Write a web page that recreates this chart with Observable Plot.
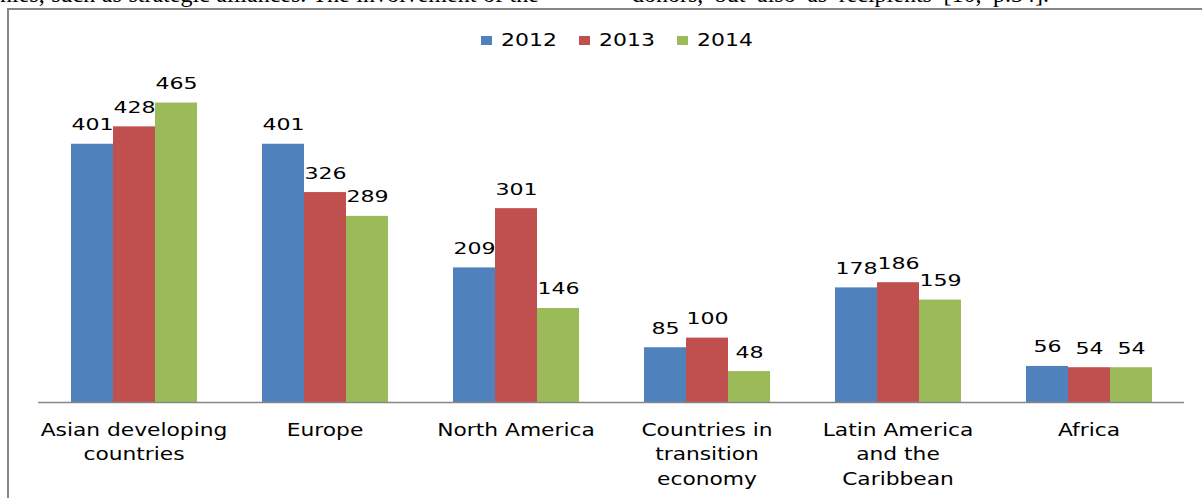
<!DOCTYPE html>
<html>
<head>
<meta charset="utf-8">
<script src="https://cdn.jsdelivr.net/npm/d3@7"></script>
<script src="https://cdn.jsdelivr.net/npm/@observablehq/plot@0.6"></script>
<style>
  html, body { margin: 0; padding: 0; background: #fff; }
  #page { position: relative; width: 1202px; height: 498px; overflow: hidden; background: #fff; }
  #bodytext { position: absolute; top: -19px; left: 0; width: 1202px; font-family: "Liberation Serif", "DejaVu Serif", serif; font-size: 24px; color: #000; white-space: nowrap; }
  #bodytext span { position: absolute; top: 0; }
  #frame { position: absolute; left: 7px; top: 8px; width: 1300px; height: 600px; border: 2px solid #868686; box-sizing: border-box; }
  #chart { position: absolute; left: 0; top: 0; }
  #legend { position: absolute; left: 481px; top: 31px; display: flex; align-items: center; font-family: "DejaVu Sans", sans-serif; font-size: 18px; color: #000; }
  #legend .sw { display: inline-block; width: 11px; height: 9px; margin-right: 9px; }
  #legend .lab { display: inline-block; transform: scaleX(1.22); transform-origin: 0 50%; margin-right: 32px; line-height: 18px; }
</style>
</head>
<body>
<div id="page">
  <div id="bodytext"><span style="left:0px; word-spacing:0.6px">nies, such as strategic alliances. The involvement of the</span><span style="left:632px; word-spacing:5.5px">donors, but also as recipients [10, p.34].</span></div>
  <div id="frame"></div>
  <div id="chart"></div>
  <div id="legend"></div>
</div>
<script>
const categories = ["Asian developing countries", "Europe", "North America", "Countries in transition economy", "Latin America and the Caribbean", "Africa"];
const categoryLabels = ["Asian developing\ncountries", "Europe", "North America", "Countries in\ntransition\neconomy", "Latin America\nand the\nCaribbean", "Africa"];
const years = ["2012", "2013", "2014"];
const values2012 = [401, 401, 209, 85, 178, 56];
const values2013 = [428, 326, 301, 100, 186, 54];
const values2014 = [465, 289, 146, 48, 159, 54];
const colors = ["#4F81BD", "#C0504D", "#9BBB59"];

const series = [values2012, values2013, values2014];
const data = categories.flatMap((c, i) => years.map((y, j) => ({category: c, year: y, value: series[j][i]})));
const labelOf = new Map(categories.map((c, i) => [c, categoryLabels[i]]));

const svg = Plot.plot({
  width: 1202,
  height: 498,
  marginLeft: 37,
  marginRight: 17,
  marginTop: 80,
  marginBottom: 96,
  style: {background: "transparent", fontFamily: "'DejaVu Sans', sans-serif", color: "#000"},
  fx: {domain: categories, padding: 0, label: null},
  x: {domain: years, paddingInner: 0, paddingOuter: 0.74, axis: null},
  y: {domain: [0, 500], axis: null},
  color: {domain: years, range: colors},
  marks: [
    Plot.barY(data, {fx: "category", x: "year", y: "value", fill: "year"}),
    Plot.ruleY([0], {stroke: "#868686", strokeWidth: 1.5}),
    Plot.text(data, {fx: "category", x: "year", y: "value", text: d => String(d.value), lineAnchor: "bottom", dy: -14, fontSize: 16, fill: "#000"}),
    Plot.axisFx({anchor: "bottom", tickSize: 0, tickPadding: 16, fontSize: 18, lineHeight: 1.36, tickFormat: c => labelOf.get(c), label: null, fill: "#000"})
  ]
});

// Stretch texts horizontally (about their anchor x) to match the wide rendering in the original
function stretch(selector, s) {
  svg.querySelectorAll(selector).forEach(t => {
    const tr = t.getAttribute("transform") || "";
    const x = parseFloat(t.getAttribute("x")) || 0;
    t.setAttribute("transform", `${tr} translate(${x},0) scale(${s},1) translate(${-x},0)`);
  });
}
stretch('g[aria-label="text"] text', 1.38);
stretch('g[aria-label="fx-axis tick label"] text', 1.21);

document.getElementById("chart").appendChild(svg);

const legend = document.getElementById("legend");
years.forEach((y, j) => {
  const sw = document.createElement("span");
  sw.className = "sw";
  sw.style.background = colors[j];
  const lab = document.createElement("span");
  lab.className = "lab";
  lab.textContent = y;
  legend.appendChild(sw);
  legend.appendChild(lab);
});
</script>
</body>
</html>
